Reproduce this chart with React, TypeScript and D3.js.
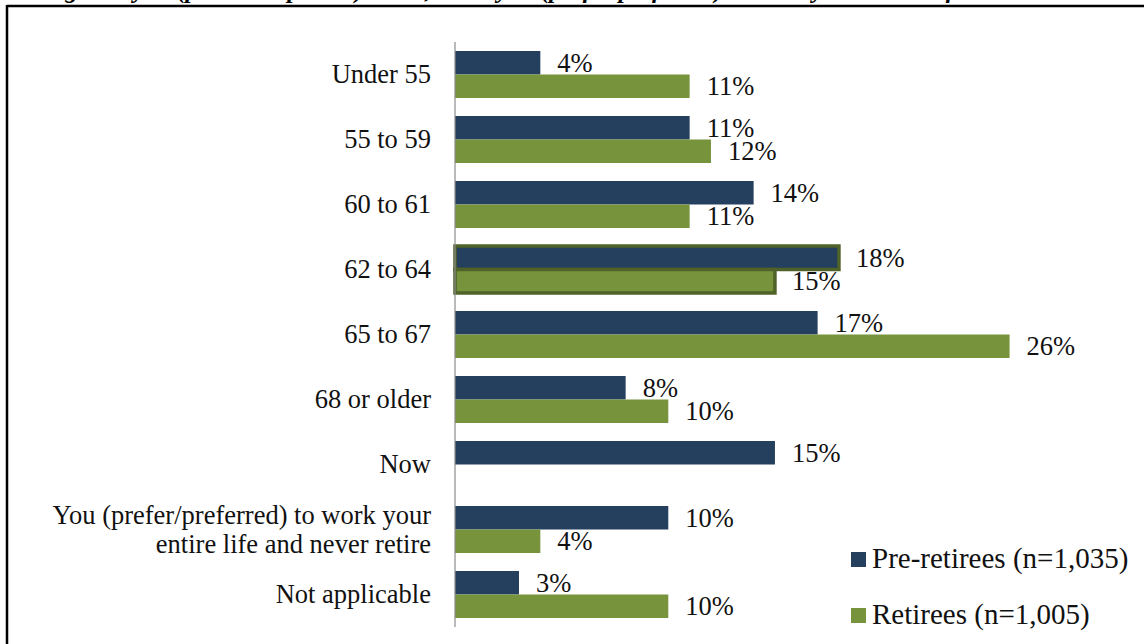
import React from "react";
import * as d3 from "d3";

const categories = [
  "Under 55",
  "55 to 59",
  "60 to 61",
  "62 to 64",
  "65 to 67",
  "68 or older",
  "Now",
  "You (prefer/preferred) to work your\nentire life and never retire",
  "Not applicable",
];
const preRetirees: (number | null)[] = [4, 11, 14, 18, 17, 8, 15, 10, 3];
const retirees: (number | null)[] = [11, 12, 11, 15, 26, 10, null, 4, 10];
const seriesNames = ["Pre-retirees (n=1,035)", "Retirees (n=1,005)"];
const highlighted = "62 to 64";
const titleText =
  "Figure: At what age did you (plan to/expect to) retire, or do you (prefer/preferred) to work your entire life and never retire? (by group)";

const W = 1144;
const H = 644;
const COLORS = ["#253F5F", "#77933C"];
const OUTLINE = "#4F6228";
const FONT = "'Liberation Serif', 'Times New Roman', serif";
const FS = 26.5;
const LEGEND_FS = 29;

export default function App() {
  const x = d3.scaleLinear().domain([0, 30]).range([455, 455 + 30 * 21.33]);
  const y = d3
    .scaleBand<string>()
    .domain(categories)
    .range([42, 627])
    .paddingInner(0.277)
    .paddingOuter(0.1385);
  const inner = d3
    .scaleBand<number>()
    .domain([0, 1])
    .range([0, y.bandwidth()]);
  const series = [preRetirees, retirees];

  return (
    <svg
      width={W}
      height={H}
      style={{ position: "absolute", left: 0, top: 0, background: "#fff" }}
      fontFamily={FONT}
    >
      <rect x={0} y={0} width={W} height={H} fill="#fff" />
      <text
        x={572}
        y={-2}
        textAnchor="middle"
        fontStyle="italic"
        fontWeight="bold"
        fontSize={25}
        fill="#000"
      >
        {titleText}
      </text>
      {/* frame */}
      <line x1={7} x2={W + 5} y1={6} y2={6} stroke="#000" strokeWidth={2.5} />
      <line x1={7} x2={7} y1={5} y2={H + 5} stroke="#000" strokeWidth={2.5} />

      {categories.map((c, ci) => {
        const lines = c.split("\n");
        const cy = (y(c) as number) + y.bandwidth() / 2;
        const lh = 29;
        return (
          <g key={c}>
            {lines.map((ln, li) => (
              <text
                key={li}
                x={431}
                y={cy + 8.8 + (li - (lines.length - 1) / 2) * lh}
                textAnchor="end"
                fontSize={FS}
                fill="#111"
              >
                {ln}
              </text>
            ))}
            {series.map((s, si) => {
              const v = s[ci];
              if (v == null) return null;
              const by = (y(c) as number) + (inner(si) as number);
              const bh = inner.bandwidth();
              const hl = c === highlighted;
              return (
                <g key={si}>
                  <rect
                    x={x(0)}
                    y={by}
                    width={x(v) - x(0)}
                    height={bh}
                    fill={COLORS[si]}
                    stroke={hl ? OUTLINE : "none"}
                    strokeWidth={hl ? 3.5 : 0}
                  />
                  <text
                    x={x(v) + 17}
                    y={by + bh / 2 + 9}
                    fontSize={FS}
                    fill="#111"
                  >
                    {`${v}%`}
                  </text>
                </g>
              );
            })}
          </g>
        );
      })}

      <line x1={455} x2={455} y1={42} y2={627} stroke="#8C8C8C" strokeWidth={1.2} />

      {seriesNames.map((n, i) => (
        <g key={n}>
          <rect x={851} y={552 + i * 56} width={15} height={15} fill={COLORS[i]} />
          <text x={872} y={568 + i * 56} fontSize={LEGEND_FS} fill="#111">
            {n}
          </text>
        </g>
      ))}
    </svg>
  );
}
